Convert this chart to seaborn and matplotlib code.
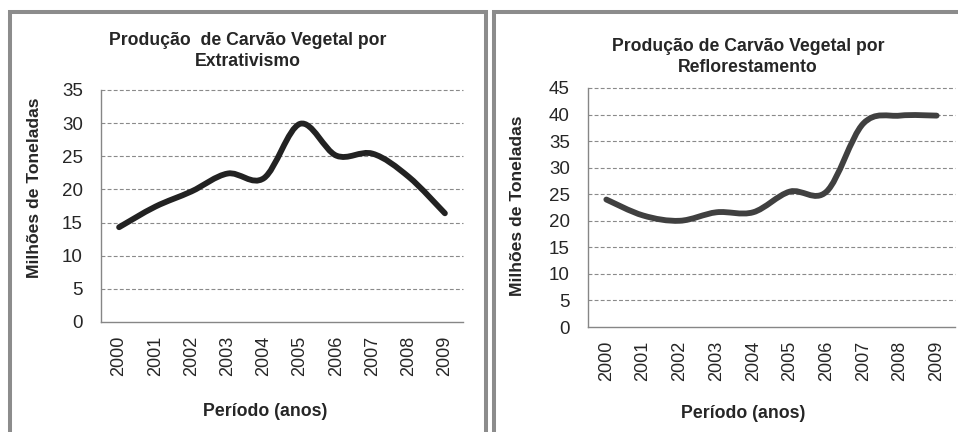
import matplotlib
matplotlib.use("Agg")
import matplotlib.pyplot as plt
from matplotlib.path import Path
from matplotlib.patches import PathPatch, Rectangle
import seaborn as sns
import pandas as pd

years = ["2000", "2001", "2002", "2003", "2004", "2005", "2006", "2007", "2008", "2009"]
extrativismo = [14.3, 17.4, 19.7, 22.4, 21.7, 29.9, 25.1, 25.4, 21.9, 16.4]
reflorestamento = [24.0, 21.0, 20.0, 21.6, 21.6, 25.5, 25.5, 38.3, 39.8, 39.8]
title_left = "Produção  de Carvão Vegetal por\nExtrativismo"
title_right = "Produção de Carvão Vegetal por\nReflorestamento"
ylabel = "Milhões de Toneladas"
xlabel = "Período (anos)"

sns.set_style("white")
plt.rcParams["font.family"] = ["Liberation Sans Narrow", "Liberation Sans", "DejaVu Sans"]

W, H = 958, 432
fig = plt.figure(figsize=(W / 100, H / 100), dpi=100)

def px_rect(x0, y_top, x1, y_bot):
    return [x0 / W, 1 - y_bot / H, (x1 - x0) / W, (y_bot - y_top) / H]

AX_GRAY = "#868686"
BOLD = ["Liberation Sans", "DejaVu Sans"]

def smooth_line(ax, values, color):
    df = pd.DataFrame({"x": range(len(years)), "y": values})
    sns.lineplot(data=df, x="x", y="y", ax=ax, color=color, lw=4.2)
    line = ax.lines[-1]
    xs, ys = line.get_data()
    xs = list(map(float, xs)); ys = list(map(float, ys))
    line.remove()
    n = len(xs)
    verts = [(xs[0], ys[0])]
    codes = [Path.MOVETO]
    for i in range(n - 1):
        p0 = (xs[max(i - 1, 0)], ys[max(i - 1, 0)])
        p1 = (xs[i], ys[i])
        p2 = (xs[i + 1], ys[i + 1])
        p3 = (xs[min(i + 2, n - 1)], ys[min(i + 2, n - 1)])
        c1 = (p1[0] + (p2[0] - p0[0]) / 6, p1[1] + (p2[1] - p0[1]) / 6)
        c2 = (p2[0] - (p3[0] - p1[0]) / 6, p2[1] - (p3[1] - p1[1]) / 6)
        verts += [c1, c2, p2]
        codes += [Path.CURVE4] * 3
    patch = PathPatch(Path(verts, codes), facecolor="none", edgecolor=color,
                      lw=4.2, capstyle="round", joinstyle="round", zorder=3)
    ax.add_patch(patch)

def style_axis(ax, ymax, title, title_xy, ylab_xy, xlab_xy, values, color):
    smooth_line(ax, values, color)
    ax.set_xlim(-0.5, len(years) - 0.5)
    ax.set_ylim(0, ymax)
    ax.set_yticks(range(0, ymax + 1, 5))
    ax.set_yticklabels([str(v) for v in range(0, ymax + 1, 5)], fontsize=13.5)
    ax.set_xticks(range(len(years)))
    ax.set_xticklabels(years, rotation=90, fontsize=13)
    ax.set_xticks([i - 0.5 for i in range(len(years) + 1)], minor=True)
    ax.tick_params(axis="x", which="major", length=0, pad=10)
    ax.tick_params(axis="x", which="minor", length=5, color=AX_GRAY, width=1, direction="out")
    ax.tick_params(axis="y", which="major", length=5, color=AX_GRAY, width=1, direction="out", pad=8)
    for s in ["top", "right"]:
        ax.spines[s].set_visible(False)
    for s in ["left", "bottom"]:
        ax.spines[s].set_color(AX_GRAY)
        ax.spines[s].set_linewidth(1)
    for v in range(5, ymax + 1, 5):
        ax.axhline(v, color="#8a8a8a", lw=0.8, ls=(0, (3.5, 2)), zorder=1, clip_on=False)
    ax.set_xlabel("")
    ax.set_ylabel("")
    ax.patch.set_alpha(0)
    fig.text(title_xy[0] / W, 1 - title_xy[1] / H, title, ha="center", va="center",
             fontsize=12.7, fontweight="bold", linespacing=1.3, family=BOLD)
    fig.text(ylab_xy[0] / W, 1 - ylab_xy[1] / H, ylabel, rotation=90, ha="center", va="center",
             fontsize=12.6, fontweight="bold", family=BOLD)
    fig.text(xlab_xy[0] / W, 1 - xlab_xy[1] / H, xlabel, ha="center", va="center",
             fontsize=12.8, fontweight="bold", family=BOLD)

# panel frames
FRAME = "#8c8c8c"
fig.add_artist(Rectangle((10 / W, -0.1), 476 / W, 1.1 - 11.5 / H, transform=fig.transFigure,
                         fill=False, edgecolor=FRAME, lw=2.9))
fig.add_artist(Rectangle((494 / W, -0.1), 500 / W, 1.1 - 11.5 / H, transform=fig.transFigure,
                         fill=False, edgecolor=FRAME, lw=2.9))

ax1 = fig.add_axes(px_rect(101, 90, 463, 322))
style_axis(ax1, 35, title_left, (248, 51), (35, 188), (265, 412), extrativismo, "#222222")

ax2 = fig.add_axes(px_rect(588, 88, 955, 327))
style_axis(ax2, 45, title_right, (748, 57), (518, 206), (743, 413), reflorestamento, "#404040")

fig.savefig("out.png", dpi=100)
